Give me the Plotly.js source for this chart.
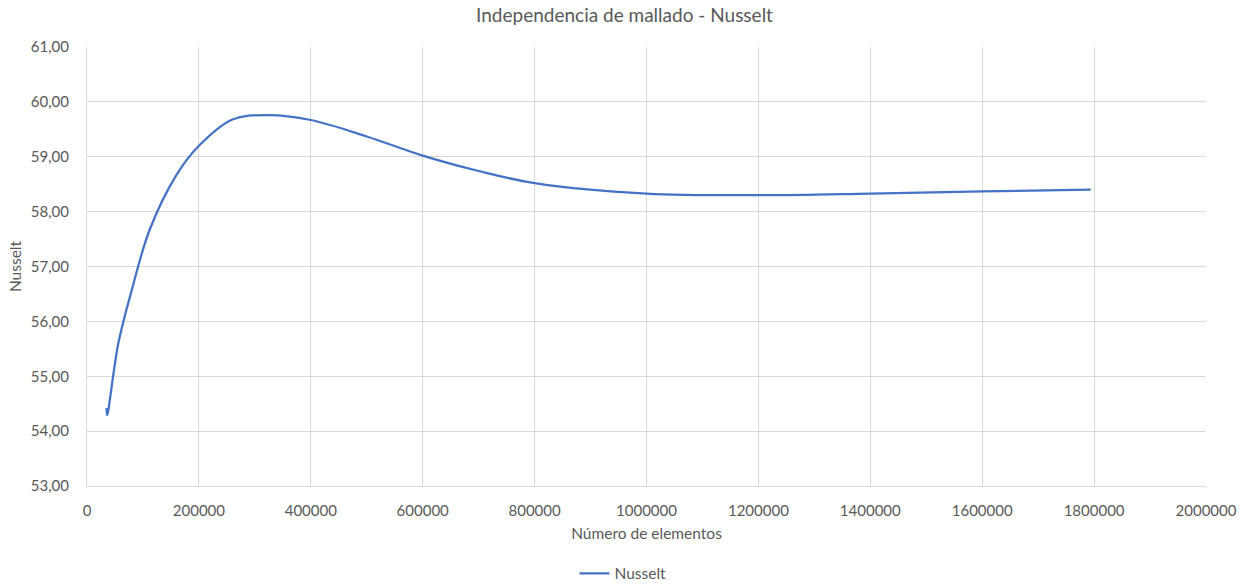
<!DOCTYPE html>
<html>
<head>
<meta charset="utf-8">
<script src="https://cdn.plot.ly/plotly-3.0.1.min.js"></script>
<style>
  html, body { margin: 0; padding: 0; background: #ffffff; }
  #chart { width: 1249px; height: 586px; }
</style>
</head>
<body>
<div id="chart"></div>
<script>
// Mesh independence study: Nusselt number vs. number of mesh elements
const elementos = [35000, 36000, 56000, 80000, 112000, 160000, 200000,
                   260000, 324000, 400000, 500000, 600000, 700000, 800000,
                   1000000, 1200000, 1400000, 1600000, 1794000];
const nusselt   = [54.42, 54.29, 55.60, 56.57, 57.67, 58.67, 59.20,
                   59.68, 59.76, 59.67, 59.37, 59.02, 58.74, 58.52,
                   58.33, 58.30, 58.33, 58.37, 58.40];

const xTicks = [0, 200000, 400000, 600000, 800000, 1000000, 1200000, 1400000, 1600000, 1800000, 2000000];
const yTicks = [53, 54, 55, 56, 57, 58, 59, 60, 61];

const fontFamily = 'Lato, "Open Sans", "Noto Sans", sans-serif';
const textGrey = '#595959';
const gridGrey = '#d9d9d9';

const trace = {
  x: elementos,
  y: nusselt,
  type: 'scatter',
  mode: 'lines',
  name: 'Nusselt',
  line: { color: '#4472c4', width: 2.25, shape: 'spline', smoothing: 1 }
};

const layout = {
  width: 1249,
  height: 586,
  margin: { l: 87, r: 43, t: 47, b: 100, autoexpand: false },
  paper_bgcolor: '#ffffff',
  plot_bgcolor: '#ffffff',
  separators: ',.',
  font: { family: fontFamily, color: textGrey, size: 15 },
  title: {
    text: 'Independencia de mallado - Nusselt',
    font: { family: fontFamily, size: 19, color: textGrey },
    x: 0.5, xanchor: 'center',
    y: 0.974, yanchor: 'middle', yref: 'container'
  },
  xaxis: {
    range: [0, 2000000],
    tickvals: xTicks,
    tickformat: 'd',
    showgrid: true,
    gridcolor: gridGrey,
    gridwidth: 1,
    zeroline: false,
    showline: true,
    linecolor: gridGrey,
    linewidth: 1,
    ticks: '',
    ticklabelstandoff: 11,
    tickfont: { family: fontFamily, size: 15, color: textGrey },
    title: {
      text: 'Número de elementos',
      font: { family: fontFamily, size: 15.5, color: textGrey },
      standoff: 10
    }
  },
  yaxis: {
    range: [53, 61],
    tickvals: yTicks,
    tickformat: '.2f',
    showgrid: true,
    gridcolor: gridGrey,
    gridwidth: 1,
    zeroline: false,
    showline: true,
    linecolor: gridGrey,
    linewidth: 1,
    ticks: '',
    ticklabelstandoff: 14,
    tickfont: { family: fontFamily, size: 15, color: textGrey },
    title: {
      text: 'Nusselt',
      font: { family: fontFamily, size: 15.5, color: textGrey },
      standoff: 5
    }
  },
  showlegend: true,
  legend: {
    orientation: 'h',
    x: 0.479, xanchor: 'center',
    y: -0.2, yanchor: 'middle',
    font: { family: fontFamily, size: 15.5, color: textGrey },
    itemwidth: 30
  }
};

Plotly.newPlot('chart', [trace], layout, { displayModeBar: false, staticPlot: true });
</script>
</body>
</html>
